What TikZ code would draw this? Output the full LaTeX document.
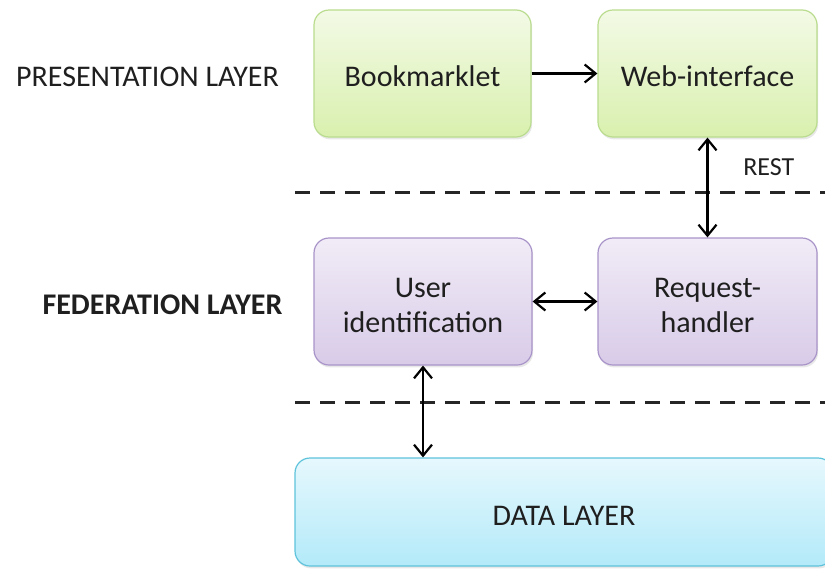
\documentclass[tikz,border=0pt]{standalone}
\usepackage{fontspec}
\setmainfont{Carlito}
\usetikzlibrary{arrows.meta,shadows}

\definecolor{greenTop}{HTML}{F3FAE6}
\definecolor{greenBot}{HTML}{D9F0AE}
\definecolor{greenLine}{HTML}{B9DC8E}
\definecolor{violetTop}{HTML}{F1ECF7}
\definecolor{violetBot}{HTML}{D8CBE8}
\definecolor{violetLine}{HTML}{A994C9}
\definecolor{cyanTop}{HTML}{E6F8FD}
\definecolor{cyanBot}{HTML}{B3EAF9}
\definecolor{cyanLine}{HTML}{5EC3DB}

% box captions sit a little below the geometric centre
\newcommand{\celltext}[1]{\raisebox{-3pt}[\height][\depth]{\begin{tabular}{@{}c@{}}#1\end{tabular}}}

\tikzset{
  txt/.style={font=\fontsize{15pt}{17.5pt}\selectfont, text=black!88},
  box/.style={txt, rounded corners=7.5pt, line width=0.6pt, align=center,
    drop shadow={opacity=0.18, shadow xshift=0.6pt, shadow yshift=-1.2pt}},
  presbox/.style={box, draw=greenLine, top color=greenTop, bottom color=greenBot},
  fedbox/.style={box, draw=violetLine, top color=violetTop, bottom color=violetBot},
  databox/.style={box, draw=cyanLine, top color=cyanTop, bottom color=cyanBot},
  separator/.style={line width=1.5pt, dash pattern=on 7.5pt off 5pt, black!85},
  tip/.tip={Straight Barb[length=5.5pt,width=9pt,line width=1.1pt]},
  link/.style={line width=1.1pt, black, tip-tip},
  onelink/.style={line width=1.1pt, black, -tip}
}

\begin{document}
\begin{tikzpicture}[x=0.5pt, y=-0.5pt]
  \useasboundingbox (0,0) rectangle (825,568);
  \clip (0,0) rectangle (825,568);

  % layer separators
  \draw[separator] (295,192) -- (825,192);
  \draw[separator] (295,402) -- (825,402);

  % layer captions
  \node[txt] (presLabel) at (147.5,77) {PRESENTATION LAYER};
  \node[txt, font=\fontsize{15pt}{17.5pt}\selectfont\bfseries] (fedLabel) at (162.5,305) {FEDERATION LAYER};

  % presentation layer
  \node[presbox, minimum width=108.5pt, minimum height=63.5pt] (bookmarklet) at (422.5,73.5) {\celltext{Bookmarklet}};
  \node[presbox, minimum width=109.5pt, minimum height=63.5pt] (webif) at (707.5,73.5) {\celltext{Web-interface}};

  % federation layer
  \node[fedbox, minimum width=109pt, minimum height=63.5pt] (userid) at (423,301.5) {\celltext{User\\identification}};
  \node[fedbox, minimum width=109.5pt, minimum height=63.5pt] (reqhandler) at (707.5,301.5) {\celltext{Request-\\handler}};

  % data layer
  \node[databox, minimum width=269pt, minimum height=54pt] (data) at (564,512) {\celltext{DATA LAYER}};

  % connectors
  \draw[onelink] (bookmarklet.east) -- (webif.west);
  \draw[link] (webif.south) -- (reqhandler.north)
    node[pos=0.3, right=14pt, txt, font=\fontsize{13pt}{15pt}\selectfont] (restLabel) {REST};
  \draw[link] (userid.east) -- (reqhandler.west);
  \draw[link] (userid.south) -- (userid.south |- data.north);
\end{tikzpicture}
\end{document}
